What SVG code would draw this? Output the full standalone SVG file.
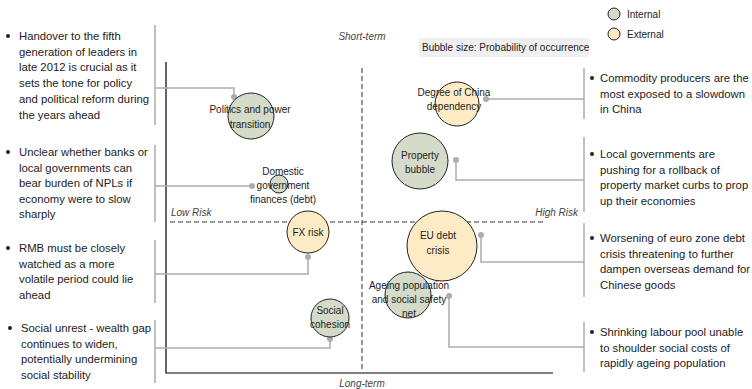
<svg xmlns="http://www.w3.org/2000/svg" width="752" height="389" viewBox="0 0 752 389">
<style>
.t{font-family:"Liberation Sans",Arial,sans-serif;font-size:11.3px;fill:#222}
.b{font-family:"Liberation Sans",Arial,sans-serif;font-size:10px;fill:#222;text-anchor:middle}
.ax{font-family:"Liberation Sans",Arial,sans-serif;font-size:10px;fill:#444;font-style:italic}
.lg{font-family:"Liberation Sans",Arial,sans-serif;font-size:10px;fill:#222}
.gl{stroke:#adadad;stroke-width:1.5;fill:none}
.dot{fill:#adadad}
.int{fill:#d4dbc9;stroke:#222;stroke-width:1}
.ext{fill:#fdebc6;stroke:#222;stroke-width:1}
.bul{fill:#222}
</style>
<rect width="752" height="389" fill="#fff"/>
<g id="axes">
<path d="M166 62V373H553" stroke="#000" stroke-width="1.2" fill="none"/>
<path d="M362 68V370" stroke="#333" stroke-width="1" stroke-dasharray="5,3"/>
<path d="M170 222H545" stroke="#333" stroke-width="1" stroke-dasharray="5,3"/>
<text class="ax" x="362" y="40" text-anchor="middle">Short-term</text>
<text class="ax" x="362" y="387" text-anchor="middle">Long-term</text>
<text class="ax" x="171" y="216">Low Risk</text>
<text class="ax" x="578" y="216" text-anchor="end">High Risk</text>
</g>
<g id="legend">
<circle class="int" cx="614" cy="14" r="6"/>
<text class="lg" x="627" y="18">Internal</text>
<circle class="ext" cx="614" cy="34" r="6"/>
<text class="lg" x="627" y="38">External</text>
<rect x="419" y="38" width="170" height="19" fill="#efefef"/>
<text class="lg" x="422" y="51">Bubble size: Probability of occurrence</text>
</g>
<g id="connectors">
<path class="gl" d="M155 25V125M155 145V222M155 240V303M155 320V383"/>
<path class="gl" d="M584 68V119M584 137V212M584 223V297M584 322V372"/>
<path class="gl" d="M155 88H234V97"/>
<path class="gl" d="M155 186H252"/>
<path class="gl" d="M155 274H308V257"/>
<path class="gl" d="M155 348H330V339"/>
<path class="gl" d="M584 99H486"/>
<path class="gl" d="M584 180H456V160"/>
<path class="gl" d="M584 262H481V235"/>
<path class="gl" d="M584 347H449V296"/>
<circle class="dot" cx="234" cy="97" r="3"/>
<circle class="dot" cx="252" cy="186" r="3"/>
<circle class="dot" cx="308" cy="257" r="3"/>
<circle class="dot" cx="330" cy="339" r="3"/>
<circle class="dot" cx="486" cy="99" r="3"/>
<circle class="dot" cx="456" cy="160" r="3"/>
<circle class="dot" cx="481" cy="235" r="3"/>
<circle class="dot" cx="449" cy="296" r="3"/>
</g>
<g id="politics">
<circle class="int" cx="251" cy="116" r="23"/>
<text class="b" x="250" y="113">Politics and power</text>
<text class="b" x="250" y="128">transition</text>
</g>
<g id="domestic">
<circle class="int" cx="279" cy="184" r="9"/>
<text class="b" x="283" y="175">Domestic</text>
<text class="b" x="283" y="189">government</text>
<text class="b" x="283" y="203">finances (debt)</text>
</g>
<g id="fx">
<circle class="ext" cx="308" cy="232" r="21"/>
<text class="b" x="308" y="236">FX risk</text>
</g>
<g id="social">
<circle class="int" cx="330" cy="318" r="19"/>
<text class="b" x="330" y="314">Social</text>
<text class="b" x="330" y="328">cohesion</text>
</g>
<g id="degree">
<circle class="ext" cx="457" cy="104" r="22"/>
<text class="b" x="454" y="96">Degree of China</text>
<text class="b" x="454" y="110">dependency</text>
</g>
<g id="property">
<circle class="int" cx="420" cy="161" r="28"/>
<text class="b" x="420" y="159">Property</text>
<text class="b" x="420" y="173">bubble</text>
</g>
<g id="eu">
<circle class="ext" cx="442" cy="246" r="35"/>
<text class="b" x="438" y="239">EU debt</text>
<text class="b" x="438" y="254">crisis</text>
</g>
<g id="ageing">
<circle class="int" cx="408" cy="295" r="23"/>
<text class="b" x="409" y="289">Ageing population</text>
<text class="b" x="409" y="303">and social safety</text>
<text class="b" x="409" y="317">net</text>
</g>
<g id="notes-left">
<circle class="bul" cx="8" cy="36" r="2"/>
<text class="t" x="19" y="40">Handover to the fifth<tspan x="19" dy="15.7">generation of leaders in</tspan><tspan x="19" dy="15.7">late 2012 is crucial as it</tspan><tspan x="19" dy="15.7">sets the tone for policy</tspan><tspan x="19" dy="15.7">and political reform during</tspan><tspan x="19" dy="15.7">the years ahead</tspan></text>
<circle class="bul" cx="8" cy="152" r="2"/>
<text class="t" x="19" y="156">Unclear whether banks or<tspan x="19" dy="15.5">local governments can</tspan><tspan x="19" dy="15.5">bear burden of NPLs if</tspan><tspan x="19" dy="15.5">economy were to slow</tspan><tspan x="19" dy="15.5">sharply</tspan></text>
<circle class="bul" cx="8" cy="248" r="2"/>
<text class="t" x="19" y="252">RMB must be closely<tspan x="19" dy="15.5">watched as a more</tspan><tspan x="19" dy="15.5">volatile period could lie</tspan><tspan x="19" dy="15.5">ahead</tspan></text>
<circle class="bul" cx="10" cy="328" r="2"/>
<text class="t" x="21" y="332">Social unrest - wealth gap<tspan x="21" dy="15.5">continues to widen,</tspan><tspan x="21" dy="15.5">potentially undermining</tspan><tspan x="21" dy="15.5">social stability</tspan></text>
</g>
<g id="notes-right">
<circle class="bul" cx="592" cy="78" r="2"/>
<text class="t" x="600" y="82">Commodity producers are the<tspan x="600" dy="15.5">most exposed to a slowdown</tspan><tspan x="600" dy="15.5">in China</tspan></text>
<circle class="bul" cx="592" cy="154" r="2"/>
<text class="t" x="600" y="158">Local governments are<tspan x="600" dy="15.5">pushing for a rollback of</tspan><tspan x="600" dy="15.5">property market curbs to prop</tspan><tspan x="600" dy="15.5">up their economies</tspan></text>
<circle class="bul" cx="592" cy="238" r="2"/>
<text class="t" x="600" y="242">Worsening of euro zone debt<tspan x="600" dy="15.5">crisis threatening to further</tspan><tspan x="600" dy="15.5">dampen overseas demand for</tspan><tspan x="600" dy="15.5">Chinese goods</tspan></text>
<circle class="bul" cx="592" cy="332" r="2"/>
<text class="t" x="600" y="336">Shrinking labour pool unable<tspan x="600" dy="15.5">to shoulder social costs of</tspan><tspan x="600" dy="15.5">rapidly ageing population</tspan></text>
</g>
</svg>
